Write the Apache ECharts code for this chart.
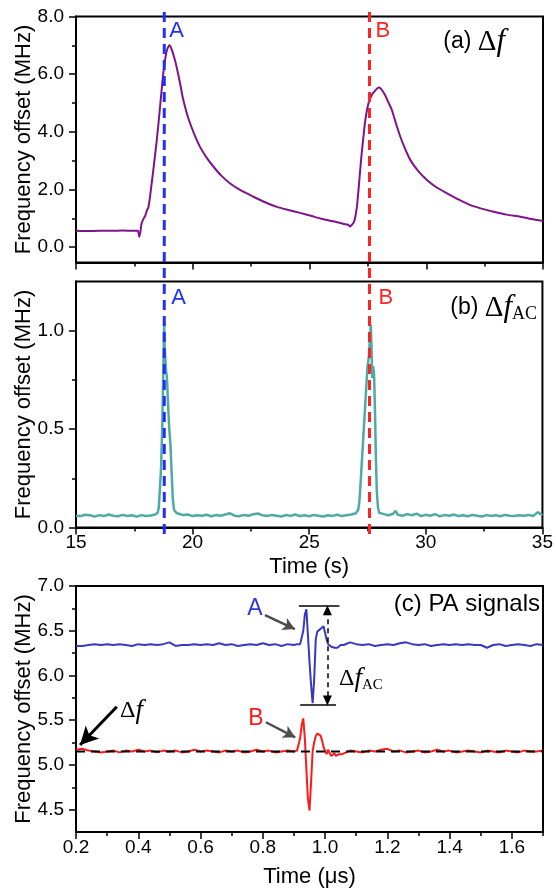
<!DOCTYPE html>
<html>
<head>
<meta charset="utf-8">
<script src="https://cdn.jsdelivr.net/npm/echarts@6/dist/echarts.min.js"></script>
<style>
  html, body { margin: 0; padding: 0; background: #ffffff; }
  #chart { width: 556px; height: 894px; }
</style>
</head>
<body>
<div id="chart"></div>
<script>
// ---- (a) total frequency offset vs time (s)
const timesA = [15.0, 15.5, 16.0, 16.5, 17.0, 17.5, 17.65, 17.71, 17.76, 17.81, 17.9, 17.96, 18.05, 18.1, 18.17,
  18.31, 18.46, 18.6, 18.72, 18.81, 18.9, 19.0, 19.1, 19.24, 19.35, 19.46, 19.57, 19.67, 19.78, 19.89,
  20.1, 20.31, 20.6, 20.89, 21.2, 21.6, 22.1, 22.6, 23.1, 23.6, 24.1, 24.6, 25.1, 25.5, 26.0, 26.4,
  26.65, 26.74, 26.8, 26.89, 26.96, 27.03, 27.1, 27.17, 27.24, 27.31, 27.38, 27.46, 27.53, 27.6, 27.7,
  27.82, 27.92, 28.0, 28.1, 28.24, 28.38, 28.53, 28.7, 28.89, 29.1, 29.32, 29.65, 30.03, 30.45, 30.89,
  31.4, 31.89, 32.4, 32.89, 33.45, 34.03, 34.5, 35.0];
const valuesA = [0.57, 0.56, 0.57, 0.57, 0.58, 0.57, 0.57, 0.36, 0.55, 0.83, 1.0, 1.08, 1.3, 1.38, 1.75,
  2.67, 3.71, 4.87, 5.9, 6.48, 6.85, 7.0, 6.85, 6.48, 6.1, 5.67, 5.2, 4.87, 4.55, 4.29,
  3.85, 3.48, 3.1, 2.79, 2.5, 2.21, 1.95, 1.75, 1.56, 1.4, 1.29, 1.19, 1.08, 0.99, 0.9, 0.82,
  0.78, 0.72, 0.76, 0.85, 1.05, 1.4, 2.0, 2.67, 3.3, 3.83, 4.35, 4.75, 5.0, 5.16, 5.32,
  5.44, 5.52, 5.54, 5.45, 5.27, 5.02, 4.75, 4.3, 3.83, 3.4, 3.02, 2.65, 2.33, 2.07, 1.87,
  1.65, 1.46, 1.33, 1.23, 1.13, 1.06, 0.98, 0.91];

// ---- (b) AC component of the frequency offset vs time (s)
const timesB = [15.0, 15.2, 15.4, 15.6, 15.8, 16.0, 16.2, 16.4, 16.6, 16.8, 17.0, 17.2, 17.4, 17.6, 17.8, 18.0,
  18.2, 18.4, 18.5, 18.55, 18.6, 18.65, 18.7, 18.74, 18.78, 18.8, 18.83, 18.86, 18.9, 18.95, 19.0, 19.05,
  19.1, 19.15, 19.2, 19.3, 19.4, 19.6, 19.8, 20.0, 20.2, 20.4, 20.6, 20.8, 21.0, 21.2, 21.4, 21.6, 21.8,
  22.0, 22.2, 22.4, 22.6, 22.8, 23.0, 23.2, 23.4, 23.6, 23.8, 24.0, 24.2, 24.4, 24.6, 24.8, 25.0, 25.2,
  25.4, 25.6, 25.8, 26.0, 26.2, 26.4, 26.6, 26.8, 27.0, 27.1, 27.15, 27.2, 27.3, 27.4, 27.5, 27.55, 27.6,
  27.64, 27.67, 27.7, 27.74, 27.78, 27.82, 27.86, 27.9, 27.95, 28.0, 28.2, 28.4, 28.6, 28.7, 28.8, 29.0,
  29.2, 29.4, 29.6, 29.8, 30.0, 30.2, 30.4, 30.6, 30.8, 31.0, 31.2, 31.4, 31.6, 31.8, 32.0, 32.2, 32.4,
  32.6, 32.8, 33.0, 33.2, 33.4, 33.6, 33.8, 34.0, 34.2, 34.4, 34.6, 34.8, 35.0];
const valuesB = [0.06, 0.058, 0.065, 0.062, 0.055, 0.063, 0.058, 0.066, 0.06, 0.057, 0.064, 0.059, 0.062, 0.055, 0.063, 0.058,
  0.061, 0.066, 0.075, 0.1, 0.2, 0.31, 0.52, 0.78, 1.04, 0.92, 0.93, 0.8, 0.76, 0.62, 0.5, 0.42,
  0.28, 0.15, 0.09, 0.075, 0.07, 0.063, 0.066, 0.058, 0.062, 0.06, 0.065, 0.057, 0.063, 0.06, 0.066, 0.072, 0.06,
  0.057, 0.064, 0.06, 0.067, 0.071, 0.062, 0.058, 0.064, 0.06, 0.056, 0.063, 0.059, 0.066, 0.058, 0.062, 0.057, 0.064,
  0.06, 0.056, 0.062, 0.059, 0.065, 0.058, 0.062, 0.066, 0.072, 0.09, 0.13, 0.22, 0.42, 0.62, 0.82, 0.86, 0.95,
  1.03, 0.92, 0.76, 0.82, 0.78, 0.6, 0.35, 0.18, 0.1, 0.075, 0.068, 0.062, 0.07, 0.085, 0.065, 0.06,
  0.068, 0.062, 0.07, 0.058, 0.065, 0.06, 0.068, 0.057, 0.063, 0.06, 0.066, 0.058, 0.062, 0.057, 0.064, 0.06, 0.056,
  0.063, 0.059, 0.062, 0.057, 0.064, 0.06, 0.058, 0.062, 0.06, 0.064, 0.058, 0.078, 0.062];

// moments A and B marked on (a) and (b)
const markA = 18.78;
const markB = 27.57;

// ---- (c) PA signals vs time (us)
const timesC = [0.20, 0.22, 0.24, 0.26, 0.28, 0.30, 0.32, 0.34, 0.36, 0.38, 0.40, 0.42, 0.44, 0.46, 0.48, 0.50, 0.52, 0.54,
  0.56, 0.58, 0.60, 0.62, 0.64, 0.66, 0.68, 0.70, 0.72, 0.74, 0.76, 0.78, 0.80, 0.82, 0.84, 0.86, 0.88, 0.90,
  0.905, 0.91, 0.915, 0.92, 0.925, 0.93, 0.935, 0.94, 0.945, 0.95, 0.955, 0.96, 0.965, 0.97, 0.975, 0.98,
  0.985, 0.99, 0.995, 1.00, 1.005, 1.01, 1.015, 1.02, 1.025, 1.03, 1.035, 1.04, 1.045, 1.05, 1.055, 1.06,
  1.08, 1.10, 1.12, 1.14, 1.16, 1.18, 1.20, 1.22, 1.24, 1.26, 1.28, 1.30, 1.32, 1.34, 1.36, 1.38, 1.40, 1.42,
  1.44, 1.46, 1.48, 1.50, 1.52, 1.54, 1.56, 1.58, 1.60, 1.62, 1.64, 1.66, 1.68, 1.70];
const signalA = [6.33, 6.33, 6.34, 6.35, 6.34, 6.35, 6.34, 6.35, 6.34, 6.33, 6.35, 6.34, 6.35, 6.34, 6.35, 6.37, 6.33, 6.34,
  6.34, 6.35, 6.34, 6.35, 6.34, 6.36, 6.34, 6.35, 6.33, 6.34, 6.35, 6.34, 6.36, 6.34, 6.35, 6.33, 6.35, 6.34,
  6.34, 6.35, 6.34, 6.35, 6.37, 6.50, 6.68, 6.74, 6.45, 6.15, 5.90, 5.69, 5.95, 6.40, 6.49, 6.50,
  6.52, 6.53, 6.55, 6.48, 6.40, 6.35, 6.33, 6.32, 6.33, 6.31, 6.32, 6.31, 6.33, 6.34, 6.33, 6.34,
  6.37, 6.35, 6.34, 6.35, 6.33, 6.34, 6.35, 6.34, 6.36, 6.37, 6.35, 6.34, 6.35, 6.33, 6.34, 6.35, 6.34, 6.35,
  6.34, 6.35, 6.34, 6.34, 6.31, 6.34, 6.35, 6.33, 6.34, 6.35, 6.34, 6.33, 6.35, 6.34];
const signalB = [5.17, 5.18, 5.16, 5.15, 5.14, 5.15, 5.16, 5.14, 5.16, 5.15, 5.17, 5.15, 5.16, 5.14, 5.16, 5.15, 5.16, 5.14,
  5.15, 5.17, 5.15, 5.16, 5.15, 5.14, 5.16, 5.15, 5.16, 5.14, 5.15, 5.17, 5.15, 5.16, 5.14, 5.15, 5.16, 5.15,
  5.15, 5.16, 5.18, 5.30, 5.45, 5.52, 5.30, 4.95, 4.62, 4.49, 4.80, 5.15, 5.25, 5.32, 5.35, 5.34,
  5.33, 5.28, 5.20, 5.16, 5.12, 5.17, 5.13, 5.10, 5.12, 5.13, 5.10, 5.09, 5.12, 5.13, 5.12, 5.14,
  5.16, 5.15, 5.14, 5.16, 5.15, 5.17, 5.18, 5.15, 5.16, 5.14, 5.15, 5.16, 5.14, 5.15, 5.17, 5.15, 5.16, 5.14,
  5.15, 5.16, 5.15, 5.14, 5.16, 5.15, 5.14, 5.16, 5.15, 5.14, 5.16, 5.15, 5.15, 5.16];
const baselineDf = 5.15;

// tick positions
const ticksTimeS = [15, 20, 25, 30, 35];
const minorTimeS = [17.5, 22.5, 27.5, 32.5];
const ticksA = [0, 2, 4, 6, 8];
const minorA = [1, 3, 5, 7];
const ticksB = [0, 0.5, 1.0];
const minorB = [0.25, 0.75];
const ticksTimeUs = [0.2, 0.4, 0.6, 0.8, 1.0, 1.2, 1.4, 1.6];
const minorTimeUs = [0.3, 0.5, 0.7, 0.9, 1.1, 1.3, 1.5, 1.7];
const ticksC = [4.5, 5.0, 5.5, 6.0, 6.5, 7.0];
const minorC = [4.75, 5.25, 5.75, 6.25, 6.75];

const SANS = '"Liberation Sans", Arial, sans-serif';
const SERIF = '"Liberation Serif", "Times New Roman", serif';

const pairs = (xs, ys) => xs.map((x, i) => [x, ys[i]]);
const fmt0 = v => String(Math.round(v));
const fmt1 = v => Number(v).toFixed(1);

function mainAxis(o) {
  const isY = o.pos === 'left';
  return {
    type: 'value', gridIndex: o.grid, min: o.min, max: o.max, position: o.pos,
    name: o.name || '', nameLocation: 'middle', nameGap: o.nameGap || 0, nameMoveOverlap: false,
    nameTextStyle: { fontFamily: SANS, fontSize: 22, color: '#000' },
    axisLine: { show: true, onZero: false, lineStyle: { color: '#000', width: 2 } },
    axisTick: { show: true, customValues: o.ticks, length: 7, lineStyle: { color: '#000', width: 1.5 } },
    axisLabel: {
      show: o.labels, customValues: o.ticks, formatter: o.fmt || fmt1,
      fontFamily: SANS, fontSize: 19, color: '#000', margin: isY ? 12 : 6
    },
    splitLine: { show: false }
  };
}
function minorAxis(grid, min, max, ticks, pos) {
  return {
    type: 'value', gridIndex: grid, min, max, position: pos,
    axisLine: { show: false, onZero: false },
    axisTick: { show: true, customValues: ticks, length: 4, lineStyle: { color: '#000', width: 1.5 } },
    axisLabel: { show: false },
    splitLine: { show: false }
  };
}

const gridBox = { left: 76, width: 467, height: 246, show: true, borderColor: '#000', borderWidth: 2 };
const yName = 'Frequency offset (MHz)';

const chart = echarts.init(document.getElementById('chart'));

chart.setOption({
  animation: false,
  backgroundColor: '#ffffff',
  grid: [
    Object.assign({ top: 16.5 }, gridBox),
    Object.assign({ top: 281.5 }, gridBox),
    Object.assign({ top: 586 }, gridBox)
  ],
  xAxis: [
    mainAxis({ grid: 0, min: 15, max: 35, ticks: ticksTimeS, labels: false, pos: 'bottom', fmt: fmt0 }),
    minorAxis(0, 15, 35, minorTimeS, 'bottom'),
    mainAxis({ grid: 1, min: 15, max: 35, ticks: ticksTimeS, labels: true, pos: 'bottom', fmt: fmt0, name: 'Time (s)', nameGap: 28 }),
    minorAxis(1, 15, 35, minorTimeS, 'bottom'),
    mainAxis({ grid: 2, min: 0.2, max: 1.7, ticks: ticksTimeUs, labels: true, pos: 'bottom', name: 'Time (\u03bcs)', nameGap: 34 }),
    minorAxis(2, 0.2, 1.7, minorTimeUs, 'bottom')
  ],
  yAxis: [
    mainAxis({ grid: 0, min: -0.53, max: 8, ticks: ticksA, labels: true, pos: 'left', name: yName, nameGap: 41 }),
    minorAxis(0, -0.53, 8, minorA, 'left'),
    mainAxis({ grid: 1, min: 0, max: 1.25, ticks: ticksB, labels: true, pos: 'left', name: yName, nameGap: 41 }),
    minorAxis(1, 0, 1.25, minorB, 'left'),
    mainAxis({ grid: 2, min: 4.25, max: 7, ticks: ticksC, labels: true, pos: 'left', name: yName, nameGap: 41 }),
    minorAxis(2, 4.25, 7, minorC, 'left')
  ],
  series: [
    {
      type: 'line', xAxisIndex: 0, yAxisIndex: 0, data: pairs(timesA, valuesA),
      showSymbol: false, smooth: 0.2, lineStyle: { color: '#7e1489', width: 2 }
    },
    {
      type: 'line', xAxisIndex: 2, yAxisIndex: 2, data: pairs(timesB, valuesB),
      showSymbol: false, lineStyle: { color: '#4faaa6', width: 2.5 }
    },
    {
      type: 'line', xAxisIndex: 4, yAxisIndex: 4, data: pairs(timesC, signalA),
      showSymbol: false, lineStyle: { color: '#3838c0', width: 2 },
      markLine: {
        silent: true, animation: false, label: { show: false },
        data: [
          // arrow pointing at signal A
          [{ coord: [0.807, 6.675], symbol: 'none', lineStyle: { color: '#4d4d4d', width: 2.5, type: 'solid' } },
           { coord: [0.903, 6.518], symbol: 'arrow', symbolSize: [10, 12] }],
          // bracket showing the AC swing
          [{ coord: [0.916, 6.776], symbol: 'none', lineStyle: { color: '#000', width: 1.5, type: 'solid' } },
           { coord: [1.046, 6.776], symbol: 'none' }],
          [{ coord: [0.92, 5.675], symbol: 'none', lineStyle: { color: '#000', width: 1.5, type: 'solid' } },
           { coord: [1.035, 5.675], symbol: 'none' }],
          [{ coord: [1.0075, 6.73], symbol: 'triangle', symbolSize: [9, 10], lineStyle: { color: '#000', width: 1.5, type: [5, 4] } },
           { coord: [1.0075, 5.72], symbol: 'triangle', symbolSize: [9, 10] }]
        ]
      }
    },
    {
      type: 'line', xAxisIndex: 4, yAxisIndex: 4, data: pairs(timesC, signalB),
      showSymbol: false, lineStyle: { color: '#ff1a1a', width: 2 },
      markLine: {
        silent: true, animation: false, label: { show: false },
        data: [
          // arrow pointing at signal B
          [{ coord: [0.81, 5.477], symbol: 'none', lineStyle: { color: '#4d4d4d', width: 2.5, type: 'solid' } },
           { coord: [0.904, 5.309], symbol: 'arrow', symbolSize: [10, 12] }],
          // arrow pointing at the DC level
          [{ coord: [0.331, 5.651], symbol: 'none', lineStyle: { color: '#000', width: 3, type: 'solid' } },
           { coord: [0.213, 5.222], symbol: 'arrow', symbolSize: [14, 18] }]
        ]
      }
    },
    {
      // DC level of the frequency offset
      type: 'line', xAxisIndex: 4, yAxisIndex: 4, data: [[0.2, baselineDf], [1.7, baselineDf]],
      showSymbol: false, lineStyle: { color: '#000', width: 2, type: [9, 6] }
    }
  ]
});

// dashed markers through panels (a) and (b), plus panel titles and notes
const xA = chart.convertToPixel({ xAxisIndex: 0 }, markA);
const xB = chart.convertToPixel({ xAxisIndex: 0 }, markB);

const deltaRich = {
  t: { fontFamily: SANS, fontSize: 23, color: '#000', verticalAlign: 'middle' },
  d: { fontFamily: SERIF, fontSize: 29, color: '#000', verticalAlign: 'middle' },
  f: { fontFamily: SERIF, fontSize: 31, fontStyle: 'italic', color: '#000', verticalAlign: 'middle' },
  s: { fontFamily: SERIF, fontSize: 18, color: '#000', verticalAlign: 'bottom', lineHeight: 18 },
  ds: { fontFamily: SERIF, fontSize: 24, color: '#000', verticalAlign: 'middle' },
  fs: { fontFamily: SERIF, fontSize: 27, fontStyle: 'italic', color: '#000', verticalAlign: 'middle' },
  ss: { fontFamily: SERIF, fontSize: 15, color: '#000', verticalAlign: 'bottom', lineHeight: 15 }
};

function label(text, x, y, color, align, size) {
  return {
    type: 'text', z: 110,
    style: { text, x, y, fill: color, font: (size || 22) + 'px ' + SANS, align: align || 'left', verticalAlign: 'middle' }
  };
}
function vDash(x, color) {
  return {
    type: 'line', z: 100,
    shape: { x1: x, y1: 12, x2: x, y2: 535 },
    style: { stroke: color, lineWidth: 3, lineDash: [10, 6] }
  };
}

chart.setOption({
  graphic: [
    vDash(xA, '#1f2fff'),
    vDash(xB, '#ff2424'),
    label('A', xA + 5, 31, '#1f2fff'),
    label('B', xB + 6, 31, '#ff2424'),
    label('A', xA + 7, 298, '#1f2fff'),
    label('B', xB + 9, 298, '#ff2424'),
    { type: 'text', z: 110, style: { text: '{t|(a) }{d|\u0394}{f|f}', rich: deltaRich, x: 505, y: 42, align: 'right', verticalAlign: 'middle' } },
    { type: 'text', z: 110, style: { text: '{t|(b) }{d|\u0394}{f|f}{s|AC}', rich: deltaRich, x: 537, y: 308, align: 'right', verticalAlign: 'middle' } },
    label('(c) PA signals', 540, 604, '#000', 'right', 24),
    label('A', 255, 609, '#3333dd', 'center', 23),
    label('B', 256, 719, '#ff1a1a', 'center', 23),
    { type: 'text', z: 110, style: { text: '{ds|\u0394}{fs|f}', rich: deltaRich, x: 120, y: 711, align: 'left', verticalAlign: 'middle' } },
    { type: 'text', z: 110, style: { text: '{ds|\u0394}{fs|f}{ss|AC}', rich: deltaRich, x: 339, y: 679, align: 'left', verticalAlign: 'middle' } }
  ]
});
</script>
</body>
</html>
